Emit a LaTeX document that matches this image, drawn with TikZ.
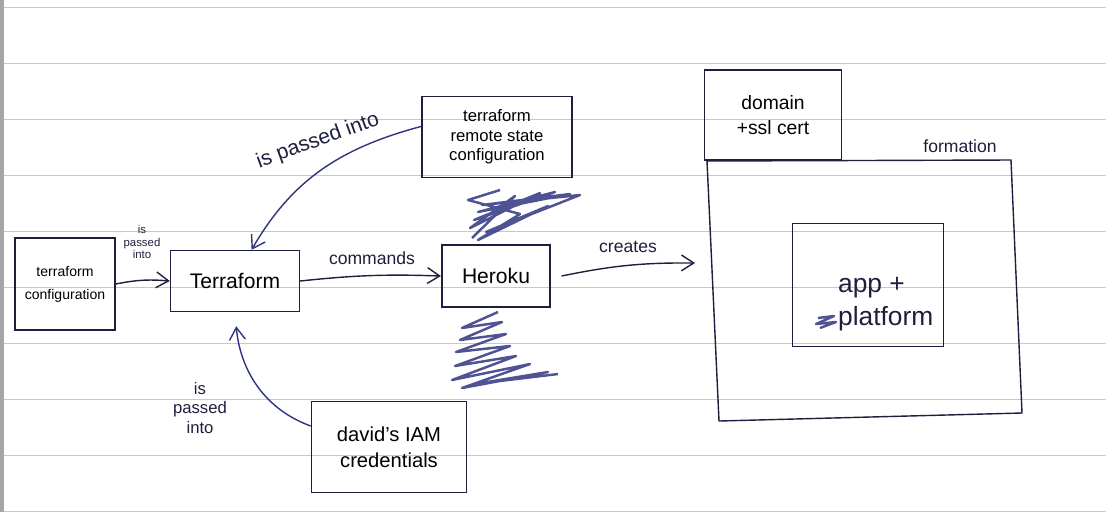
\documentclass[tikz,border=0pt]{standalone}
\usepackage{fontspec}
\setmainfont{Liberation Sans}
\usetikzlibrary{arrows.meta}
\definecolor{ink}{RGB}{30,30,62}
\definecolor{pen}{RGB}{48,52,128}
\definecolor{ruling}{RGB}{200,200,200}
\tikzset{
  box/.style={draw=ink, thick, align=center, inner sep=0pt},
  arr/.style={-{Straight Barb[length=7pt,width=9pt]}, thick, ink},
  note/.style={align=center, text=ink, inner sep=1pt},
  scribble/.style={pen, line width=1.4pt, line join=round, opacity=0.85},
}

\begin{document}
\begin{tikzpicture}[x=0.02cm, y=-0.02cm]
\useasboundingbox (0,0) rectangle (1106,512);
% paper
\foreach \y in {7,63,...,511} \draw [ruling] (0,\y) -- (1106,\y);
\fill [gray!70] (0,0) rectangle (4,512);

% boxes
\node [box, minimum width=2cm, minimum height=1.84cm, font=\fontsize{8}{13}\selectfont] (tfconf) at (65,284) {terraform\\configuration};
\node [box, minimum width=2.58cm, minimum height=1.22cm, font=\large] (tf) at (235,281) {Terraform};
\node [box, minimum width=3cm, minimum height=1.62cm, font=\fontsize{9.5}{11}\selectfont] (remote) at (497,137) {terraform\\remote state\\configuration};
\node [box, very thick, minimum width=2.16cm, minimum height=1.24cm, font=\large] (heroku) at (496,276) {Heroku};
\node [box, minimum width=3.1cm, minimum height=1.82cm, font=\fontsize{11.5}{15}\selectfont] (iam) at (389,447) {david's IAM\\credentials};
\node [box, minimum width=2.74cm, minimum height=1.8cm, font=\fontsize{11}{14}\selectfont] (domain) at (773,115) {domain\\+ssl cert};
\draw [ink, thick] (707,161) -- (1011,160) -- (1022,413) -- (719,421) -- cycle;
\node [note, font=\fontsize{10}{12}\selectfont] (formation) at (960,146) {formation};
\node [box, minimum width=3.02cm, minimum height=2.46cm] (app) at (868,285) {};
\node [note, anchor=west, align=left, font=\fontsize{15}{19}\selectfont] (apptext) at (836,304) {app +\\platform};

% connectors
\coordinate (made) at (695,263);
\draw [arr] (tfconf.east) to [bend left=8] (tf.west);
\draw [arr, pen] (remote.172) to [out=195, in=60] (tf.62);
\draw [arr] (tf.east) to [bend left=4] (heroku.west);
\draw [arr] ([xshift=6pt]heroku.east) to [bend left=6] (made);
\draw [arr, pen, shorten >=8pt] (iam.165) to [out=160, in=-85] (tf.south);

% labels
\node [note, font=\fontsize{6.5}{7}\selectfont] (lblconf) at (142,242) {is\\passed\\into};
\node [note, font=\fontsize{12}{14}\selectfont, rotate=20] (lblremote) at (318,141) {is passed into};
\node [note, font=\fontsize{10}{12}\selectfont] (lblcmd) at (372,258) {commands};
\node [note, font=\fontsize{10}{12}\selectfont] (lblcreate) at (628,247) {creates};
\node [note, font=\fontsize{9.5}{11}\selectfont] (lbliam) at (200,408) {is\\passed\\into};

% crossed out words
\draw [scribble] (472,238) -- (515,196) -- (470,228) -- (540,193) -- (474,220) -- (555,192)
  -- (478,212) -- (570,194) -- (482,205) -- (580,195) -- (486,232) -- (548,206) -- (478,240)
  -- (520,214) -- (468,200) -- (500,190);
\draw [scribble] (498,312) -- (462,328) -- (502,322) -- (460,340) -- (506,334) -- (456,352)
  -- (510,346) -- (455,366) -- (516,356) -- (452,380) -- (530,364) -- (462,388) -- (548,372)
  -- (475,384) -- (558,374);
\draw [scribble] (818,318) -- (834,316) -- (816,324) -- (836,322) -- (820,328);
\end{tikzpicture}
\end{document}
